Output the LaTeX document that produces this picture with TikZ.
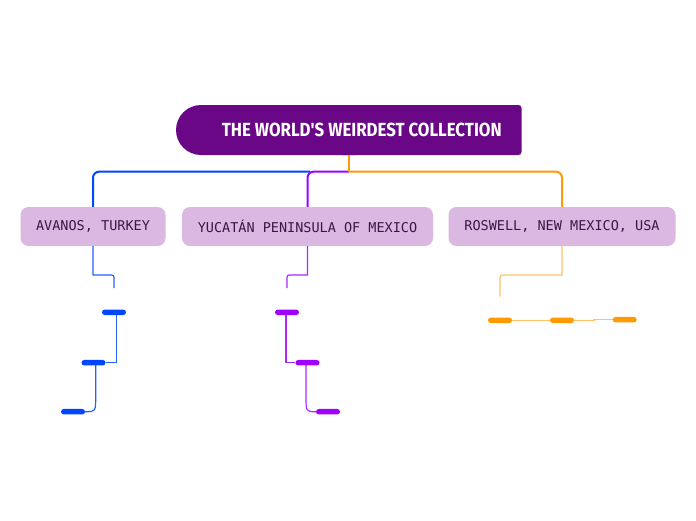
\documentclass[tikz,border=0pt]{standalone}
\usepackage{fontspec}
\usetikzlibrary{shapes.misc}
\newfontfamily\titlefont[FakeStretch=0.885]{Fira Sans}
\newfontfamily\boxfont{DejaVu Sans Mono}
\definecolor{rootpurple}{HTML}{6A0787}
\definecolor{boxlilac}{HTML}{DAB8E1}
\definecolor{boxtext}{HTML}{3A1748}
\definecolor{cblue}{HTML}{0046FF}
\definecolor{cpurple}{HTML}{A000FF}
\definecolor{corange}{HTML}{FF9A00}
\begin{document}
\begin{tikzpicture}[x=1pt,y=-1pt,
  topic/.style={fill=boxlilac, rounded corners=8pt, minimum height=39pt, inner sep=0pt,
    font=\boxfont\fontsize{13.5}{14}\selectfont, text=boxtext},
  leafbar/.style={rounded rectangle, minimum width=24pt, minimum height=5.5pt, inner sep=0pt},
  mainline/.style={line width=2pt, rounded corners=6pt},
  subline/.style={line width=1.2pt}]
\fill[white] (0,0) rectangle (696,520);
\useasboundingbox (0,0) rectangle (696,520);

% root shape
\fill[rootpurple, rounded corners=25pt] (176,105) rectangle (380,155);
\fill[rootpurple, rounded corners=3pt] (340,105) rectangle (521.5,155);
\node[rectangle, inner sep=0pt,
  minimum width=345.5pt, minimum height=50pt, text=white,
  font=\titlefont\bfseries\fontsize{19}{20}\selectfont] (root) at (348.75,130)
  {\hspace*{26pt}THE WORLD'S WEIRDEST COLLECTION};

% topics
\node[topic, minimum width=145pt] (turkey) at (93,226.5) {AVANOS, TURKEY};
\node[topic, minimum width=251pt] (yucatan) at (307.5,226.5) {YUCATÁN PENINSULA OF MEXICO};
\node[topic, minimum width=227pt] (roswell) at (562,226.5) {ROSWELL, NEW MEXICO, USA};

% main connectors
\coordinate (hub) at (348.75,171.7);
\draw[mainline, cblue] (310,171.7) -| (turkey.north);
\draw[mainline, cpurple] (hub) -| (yucatan.north);
\draw[mainline, corange] (root.south) -- (hub);
\draw[mainline, corange] (hub) -| (roswell.north);

% leaf bars
\node[leafbar, fill=cblue] (b1) at (114,312.3) {};
\node[leafbar, fill=cblue] (b2) at (93.5,362.7) {};
\node[leafbar, fill=cblue] (b3) at (73,411.7) {};
\node[leafbar, fill=cpurple] (p1) at (287,312.3) {};
\node[leafbar, fill=cpurple] (p2) at (307.5,362.7) {};
\node[leafbar, fill=cpurple] (p3) at (328,411.7) {};
\node[leafbar, fill=corange] (o1) at (500,320.3) {};
\node[leafbar, fill=corange] (o2) at (562,320.3) {};
\node[leafbar, fill=corange] (o3) at (624.7,319.7) {};

% sub connectors
\coordinate (ae) at (114,288);
\coordinate (ce) at (287,288);
\coordinate (de) at (500,296.7);
\draw[subline, cblue, opacity=0.85] (turkey.south) -- (93,275) -- (109,275) .. controls (114,275) .. (114,280) -- (ae);
\draw[subline, cpurple, opacity=0.85] (yucatan.south) -- (307.5,275) -- (292,275) .. controls (287,275) .. (287,280) -- (ce);
\draw[subline, corange, opacity=0.6] (roswell.south) -- (562,275) -- (506,275) .. controls (500,275) .. (500,281) -- (de);

\draw[subline, cblue, opacity=0.85] ([xshift=2.7pt]b1.center) |- (b2.east);
\draw[subline, cblue, opacity=0.85] ([xshift=2.2pt]b2.center) -- (95.7,396) .. controls (95.7,411.7) .. (b3.east);
\draw[subline, cpurple, opacity=0.85] ([xshift=-1pt]p1.center) |- (p2.west);
\draw[subline, cpurple, opacity=0.85] ([xshift=-1.5pt]p2.center) -- (306,396) .. controls (306,411.7) .. (p3.west);
\draw[subline, corange, opacity=0.6] (o1.east) -- (o2.west);
\draw[subline, corange, opacity=0.6] (o2.east) -- (594,320.3) |- (o3.west);
\end{tikzpicture}
\end{document}
